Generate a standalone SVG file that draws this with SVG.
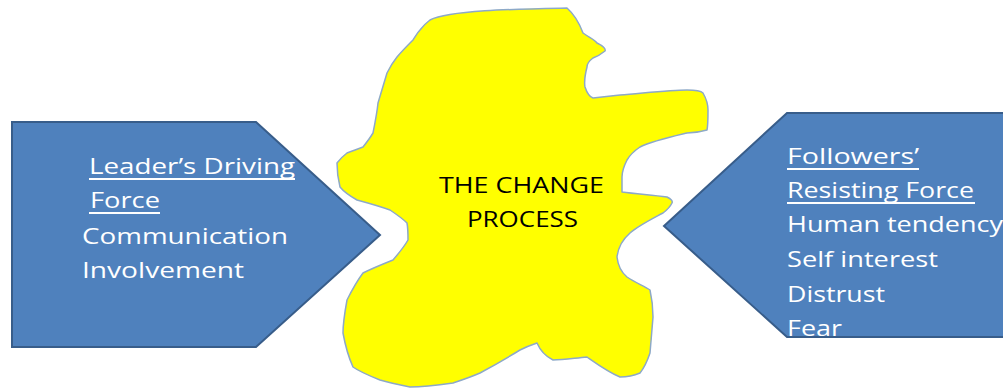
<svg xmlns="http://www.w3.org/2000/svg" width="1003" height="389" viewBox="0 0 1003 389">
  <style>
    .arrow { fill: #4F81BD; stroke: #385D8A; stroke-width: 2; stroke-linejoin: miter; }
    .blob { fill: #FFFF00; stroke: #8DA9C8; stroke-width: 1.5; stroke-linejoin: round; }
    .lbl { font-family: "Open Sans", "Liberation Sans", sans-serif; font-size: 22px; fill: #FFFFFF; }
    .ctr { font-family: "Open Sans", "Liberation Sans", sans-serif; font-size: 22px; fill: #000000; }
    .ul { stroke: #FFFFFF; stroke-width: 2; }
  </style>
  <rect width="1003" height="389" fill="#FFFFFF"/>

  <!-- central irregular shape -->
  <g id="change-process">
    <path class="blob" d="M430,20 C450,10 520,9 567,8 C575,15 580,25 583,33 C590,38 595,40 597,43 C603,46 606,49 605,51 C600,55 596,57 593,58 C589,61 587,64 587,67 C585,75 584,82 585,87 C587,93 590,97 593,98 C602,97 611,96 620,95 C645,93 670,90 687,90 C697,90 702,92 703,93 C707,100 708,105 708,110 C708,118 708,125 707,130 C700,132 694,133 687,133 C670,137 652,141 640,147 C634,151 630,155 627,160 C624,166 622,171 622,177 C622,182 622,187 622,192 C637,194 652,195 667,197 C671,199 673,201 672,203 C670,207 667,210 663,213 C650,220 638,226 630,233 C622,240 618,248 617,257 C618,266 621,272 627,277 C636,283 644,286 650,290 C652,299 653,308 653,317 C652,330 651,342 650,353 C647,362 644,368 640,373 C633,376 627,377 620,377 C608,372 597,364 587,357 C575,358 564,360 553,360 C545,356 540,350 537,343 C531,345 526,347 520,350 C507,358 493,366 480,373 C471,377 462,380 453,383 C439,385 424,387 410,387 C400,385 390,383 380,380 C370,376 360,372 353,367 C348,356 345,344 343,333 C343,322 345,311 347,300 C352,290 357,281 363,273 C373,268 383,264 393,260 C399,253 404,247 408,240 C408,234 408,228 407,223 C402,218 396,214 390,210 C379,206 368,203 357,200 C350,196 344,192 340,187 C338,179 337,171 337,163 C340,159 343,156 347,153 C352,151 358,149 363,147 C367,142 370,138 373,133 C375,123 377,113 378,103 C381,93 384,83 387,73 C390,67 393,62 397,57 C402,51 408,45 413,40 C415,37 417,33 420,30 C423,26 426,23 430,20 Z"/>
    <text class="ctr" x="439" y="193" textLength="165" lengthAdjust="spacingAndGlyphs">THE CHANGE</text>
    <text class="ctr" x="467" y="227" textLength="111" lengthAdjust="spacingAndGlyphs">PROCESS</text>
  </g>

  <!-- driving force arrow, pointing right -->
  <g id="driving-force">
    <polygon class="arrow" points="12,122 256,122 380,235 256,347 12,347"/>
    <text class="lbl" x="89" y="174" textLength="206" lengthAdjust="spacingAndGlyphs">Leader’s Driving</text>
    <line class="ul" x1="89" y1="179" x2="295" y2="179"/>
    <text class="lbl" x="90" y="208" textLength="70" lengthAdjust="spacingAndGlyphs">Force</text>
    <line class="ul" x1="89" y1="213" x2="160" y2="213"/>
    <text class="lbl" x="82" y="244" textLength="206" lengthAdjust="spacingAndGlyphs">Communication</text>
    <text class="lbl" x="82" y="278" textLength="162" lengthAdjust="spacingAndGlyphs">Involvement</text>
  </g>

  <!-- resisting force arrow, pointing left -->
  <g id="resisting-force">
    <polygon class="arrow" points="1010,113 787,113 664,226 787,337 1010,337"/>
    <text class="lbl" x="787" y="164" textLength="132" lengthAdjust="spacingAndGlyphs">Followers’</text>
    <line class="ul" x1="787" y1="169" x2="919" y2="169"/>
    <text class="lbl" x="787" y="198" textLength="187" lengthAdjust="spacingAndGlyphs">Resisting Force</text>
    <line class="ul" x1="787" y1="203" x2="975" y2="203"/>
    <text class="lbl" x="787" y="232" textLength="216" lengthAdjust="spacingAndGlyphs">Human tendency</text>
    <text class="lbl" x="787" y="267" textLength="151" lengthAdjust="spacingAndGlyphs">Self interest</text>
    <text class="lbl" x="787" y="302" textLength="98" lengthAdjust="spacingAndGlyphs">Distrust</text>
    <text class="lbl" x="787" y="336" textLength="55" lengthAdjust="spacingAndGlyphs">Fear</text>
  </g>
</svg>
